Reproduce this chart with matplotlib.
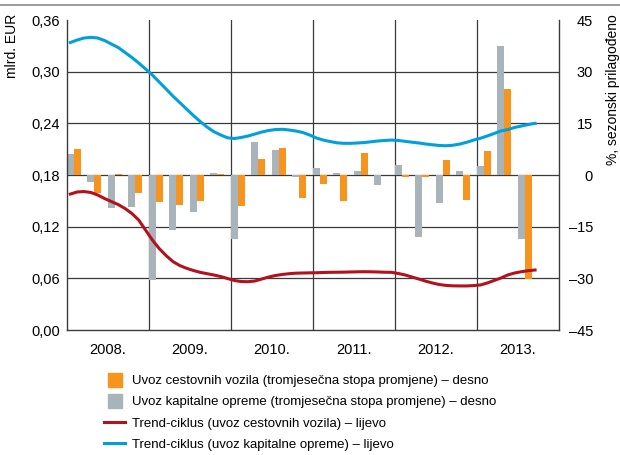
import matplotlib
matplotlib.use('Agg')
import numpy as np
import matplotlib.pyplot as plt
from matplotlib.lines import Line2D

plt.rcParams['font.family'] = ['Liberation Sans', 'DejaVu Sans']

# quarterly rates of change, % (right axis), 2008Q1 - 2013Q3
gray_vals = [6.0, -2.0, -9.7, -9.3, -30.5, -16.0, -10.6, 0.5, -18.6, 9.7, 7.3, -0.5,
             2.0, 0.7, 1.3, -2.9, 3.0, -18.1, -8.0, 1.2, 2.6, 37.4, -18.5]
orange_vals = [7.45, -5.1, 0.3, -5.1, -7.9, -8.7, -7.4, 0.2, -9.1, 4.7, 7.8, -6.8,
               -2.6, -7.4, 6.3, -0.1, -0.7, -0.5, 4.5, -7.3, 7.1, 25.0, -30.3]

# monthly trend-cycle, bn EUR (left axis), Jan 2008 - Sep 2013
blue_trend = [0.3339, 0.3368, 0.3391, 0.3399, 0.3391, 0.3362, 0.3321, 0.3281, 0.3223, 0.3165,
              0.3101, 0.3031, 0.2961, 0.2880, 0.2799, 0.2717, 0.2642, 0.2566, 0.2491, 0.2421,
              0.2357, 0.2303, 0.2265, 0.2232, 0.2224, 0.2236, 0.2253, 0.2276, 0.2299, 0.2317,
              0.2328, 0.2331, 0.2323, 0.2311, 0.2294, 0.2265, 0.2230, 0.2206, 0.2189, 0.2174,
              0.2168, 0.2168, 0.2172, 0.2177, 0.2186, 0.2195, 0.2201, 0.2206, 0.2201, 0.2191,
              0.2181, 0.2172, 0.2160, 0.2151, 0.2143, 0.2140, 0.2146, 0.2160, 0.2180, 0.2206,
              0.2227, 0.2253, 0.2282, 0.2311, 0.2328, 0.2352, 0.2369, 0.2386, 0.2400]
red_trend = [0.1579, 0.1603, 0.1608, 0.1597, 0.1568, 0.1527, 0.1492, 0.1457, 0.1411, 0.1353,
             0.1277, 0.1161, 0.1045, 0.0946, 0.0865, 0.0795, 0.0749, 0.0717, 0.0691, 0.0670,
             0.0654, 0.0639, 0.0621, 0.0598, 0.0575, 0.0563, 0.0561, 0.0569, 0.0592, 0.0615,
             0.0633, 0.0645, 0.0654, 0.0660, 0.0662, 0.0664, 0.0665, 0.0668, 0.0670, 0.0671,
             0.0672, 0.0674, 0.0676, 0.0677, 0.0676, 0.0674, 0.0671, 0.0670, 0.0656, 0.0639,
             0.0615, 0.0592, 0.0567, 0.0546, 0.0528, 0.0518, 0.0513, 0.0512, 0.0512, 0.0516,
             0.0523, 0.0546, 0.0575, 0.0604, 0.0639, 0.0662, 0.0677, 0.0689, 0.0697]

years = ['2008.', '2009.', '2010.', '2011.', '2012.', '2013.']
left_ticks = ['0,00', '0,06', '0,12', '0,18', '0,24', '0,30', '0,36']
right_ticks = ['–45', '–30', '–15', '0', '15', '30', '45']

labels = ['Uvoz cestovnih vozila (tromjesečna stopa promjene) – desno',
          'Uvoz kapitalne opreme (tromjesečna stopa promjene) – desno',
          'Trend-ciklus (uvoz cestovnih vozila) – lijevo',
          'Trend-ciklus (uvoz kapitalne opreme) – lijevo']

c_orange = '#F7941D'
c_gray = '#A9B4BA'
c_red = '#B3121D'
c_blue = '#00A0DC'
c_grid = '#3a3a3a'

fig = plt.figure(figsize=(6.2, 4.55), dpi=100)
ax = fig.add_axes([0.108, 0.2747, 0.7936, 0.6813])

# bars: right-hand scale (drawn on the main axes so lines come on top)
q = np.arange(len(gray_vals))
bw = 0.34
ax.bar(q, gray_vals, width=bw, align='edge', color=c_gray, zorder=2)
ax.bar(q + bw, orange_vals, width=bw, align='edge', color=c_orange, zorder=2)
ax.set_xlim(0, 24)
ax.set_ylim(-45, 45)
for y in np.arange(-30, 45, 15):
    ax.axhline(y, color=c_grid, lw=0.9, zorder=1)
for x in range(4, 24, 4):
    ax.axvline(x, color=c_grid, lw=0.9, zorder=1)
ax.set_xticks(np.arange(2, 24, 4))
ax.set_xticklabels(years)
for s in ax.spines.values():
    s.set_color(c_grid)
    s.set_linewidth(1.0)
ax.spines['top'].set_visible(False)

# trend lines: left-hand scale
ax2 = ax.twinx()
m = (np.arange(len(blue_trend)) + 0.5) / 3.0
ax2.plot(m, red_trend, color=c_red, lw=2.2, zorder=3)
ax2.plot(m, blue_trend, color=c_blue, lw=2.2, zorder=3)
ax2.set_ylim(0, 0.36)
for s in ax2.spines.values():
    s.set_visible(False)

# swap sides: bars' % scale on the right, EUR scale on the left
ax.yaxis.tick_right()
ax.set_yticks(np.arange(-45, 46, 15))
ax.set_yticklabels(right_ticks, ha='right')
ax2.yaxis.tick_left()
ax2.set_yticks(np.arange(0, 0.361, 0.06))
ax2.set_yticklabels(left_ticks)

ax.tick_params(length=0, labelsize=10.5)
ax.tick_params(axis='x', pad=9)
ax.tick_params(axis='y', pad=24.5)
ax2.tick_params(length=0, labelsize=10.5, pad=5)

fig.text(12 / 620, 1 - 14 / 455, 'mlrd. EUR', rotation=90, ha='center', va='top', fontsize=10)
fig.text(613 / 620, 1 - 14 / 455, '%, sezonski prilagođeno', rotation=90, ha='center',
         va='top', fontsize=10)

# grey rule at the top of the figure
fig.add_artist(Line2D([0, 1], [0.989, 0.989], color='#8c8c8c', lw=1.2,
                      transform=fig.transFigure))

handles = [Line2D([], [], marker='s', ls='none', ms=10.5, color=c_orange),
           Line2D([], [], marker='s', ls='none', ms=10.5, color=c_gray),
           Line2D([], [], color=c_red, lw=2.2),
           Line2D([], [], color=c_blue, lw=2.2)]
fig.legend(handles, labels, loc='upper left', bbox_to_anchor=(0.168, 0.176),
           frameon=False, fontsize=9.5, handlelength=1.6, handletextpad=0.5,
           labelspacing=0.68, borderaxespad=0, borderpad=0)

fig.savefig('out.png', dpi=100)
